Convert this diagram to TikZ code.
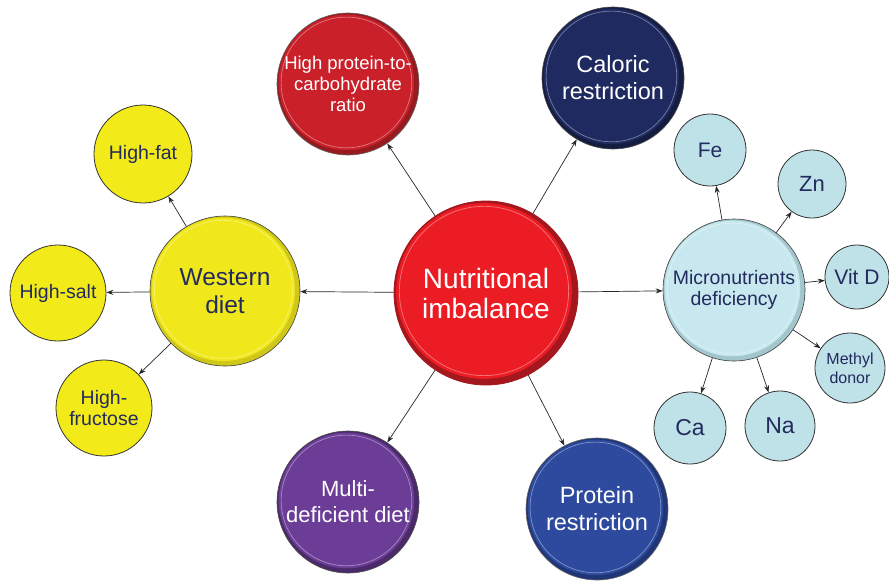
\documentclass[tikz,border=0pt]{standalone}
\usepackage{fontspec}
\setmainfont{Liberation Sans}
\usetikzlibrary{arrows.meta}
\definecolor{navytxt}{HTML}{232B5E}
\definecolor{cRed}{HTML}{EC1C24}\definecolor{cRedD}{HTML}{A3171D}
\definecolor{cHP}{HTML}{C9202A}\definecolor{cHPD}{HTML}{961B21}
\definecolor{cCal}{HTML}{1F2A60}\definecolor{cCalD}{HTML}{141C40}
\definecolor{cWest}{HTML}{F1E81B}\definecolor{cWestD}{HTML}{CFC71A}
\definecolor{cMic}{HTML}{C7E8EE}\definecolor{cMicD}{HTML}{A3C6CC}
\definecolor{cMul}{HTML}{6B3D97}\definecolor{cMulD}{HTML}{4A2A68}
\definecolor{cPro}{HTML}{2D4A9E}\definecolor{cProD}{HTML}{1F3575}
\definecolor{sYel}{HTML}{F3EA19}
\definecolor{sBlu}{HTML}{BEE2E7}
\begin{document}
\begin{tikzpicture}[x=1pt,y=-1pt,
  ball/.style n args={3}{circle, inner sep=0pt, minimum size={2*#1pt}, fill=#3, draw=#3, line width=0.8pt,
    path picture={
      \fill[#2] ([shift={(-0.022*#1pt,0.022*#1pt)}]path picture bounding box.center) circle ({0.955*#1pt});
      \draw[white,opacity=0.4,line width=0.7pt] ([shift={(-0.022*#1pt,0.022*#1pt)}]path picture bounding box.center) circle ({0.92*#1pt});
    }},
  small/.style n args={2}{circle, inner sep=0pt, minimum size={2*#1pt}, fill=#2, draw=black!80, line width=0.8pt, text=navytxt, align=center},
  arr/.style={-{Stealth[length=7pt,width=5pt]}, line width=0.7pt, black!85}
]
\useasboundingbox (0,0) rectangle (889,582);

% main nodes
\node[ball={92}{cRed}{cRedD}, text=white, align=center, font=\fontsize{28}{30}\selectfont] (ni) at (486,293) {Nutritional\\imbalance};
\node[ball={71}{cHP}{cHPD}, draw=black!60, line width=0.6pt, text=white, align=center, font=\fontsize{18.5}{21}\selectfont] (hp) at (348,84) {High protein-to-\\carbohydrate\\ratio};
\node[ball={71}{cCal}{cCalD}, draw=black!70, line width=0.6pt, text=white, align=center, font=\fontsize{23.5}{27}\selectfont] (cr) at (613,78) {Caloric\\restriction};
\node[ball={75}{cWest}{cWestD}, draw=black!75, line width=0.6pt, text=navytxt, align=center, font=\fontsize{24.5}{28}\selectfont] (wd) at (225,291) {Western\\diet};
\node[ball={71}{cMic}{cMicD}, draw=black!75, line width=0.6pt, text=navytxt, align=center, font=\fontsize{19.5}{21}\selectfont] (mi) at (734,290) {Micronutrients\\deficiency};
\node[ball={71}{cMul}{cMulD}, draw=black!70, line width=0.6pt, text=white, align=center, font=\fontsize{22}{26}\selectfont] (mu) at (348,502) {Multi-\\deficient diet};
\node[ball={71}{cPro}{cProD}, draw=black!60, line width=0.6pt, text=white, align=center, font=\fontsize{23.5}{27}\selectfont] (pr) at (597,509) {Protein\\restriction};

% western sub-nodes
\node[small={49}{sYel}, font=\fontsize{19.5}{21}\selectfont] (hf) at (143,154) {High-fat};
\node[small={48}{sYel}, font=\fontsize{19.5}{21}\selectfont] (hs) at (58,293) {High-salt};
\node[small={48}{sYel}, font=\fontsize{19.5}{21}\selectfont] (hfr) at (104,408) {High-\\fructose};

% micronutrient sub-nodes
\node[small={36}{sBlu}, font=\fontsize{21}{24}\selectfont] (fe) at (710,150) {Fe};
\node[small={34}{sBlu}, font=\fontsize{22}{24}\selectfont] (zn) at (812,184) {Zn};
\node[small={32}{sBlu}, font=\fontsize{21}{24}\selectfont] (vd) at (857,277) {Vit D};
\node[small={35}{sBlu}, font=\fontsize{16}{19}\selectfont] (md) at (850,368) {Methyl\\donor};
\node[small={35}{sBlu}, font=\fontsize{23}{24}\selectfont] (na) at (780,426) {Na};
\node[small={36}{sBlu}, font=\fontsize{23}{24}\selectfont] (ca) at (690,428) {Ca};

% connectors
\draw[arr] (ni) -- (hp);
\draw[arr] (ni) -- (cr);
\draw[arr] (ni) -- (wd);
\draw[arr] (ni) -- (mi);
\draw[arr] (ni) -- (mu);
\draw[arr] (ni) -- (pr);
\draw[arr] (wd) -- (hf);
\draw[arr] (wd) -- (hs);
\draw[arr] (wd) -- (hfr);
\draw[arr] (mi) -- (fe);
\draw[arr] (mi) -- (zn);
\draw[arr] (mi) -- (vd);
\draw[arr] (mi) -- (md);
\draw[arr] (mi) -- (na);
\draw[arr] (mi) -- (ca);
\end{tikzpicture}
\end{document}
